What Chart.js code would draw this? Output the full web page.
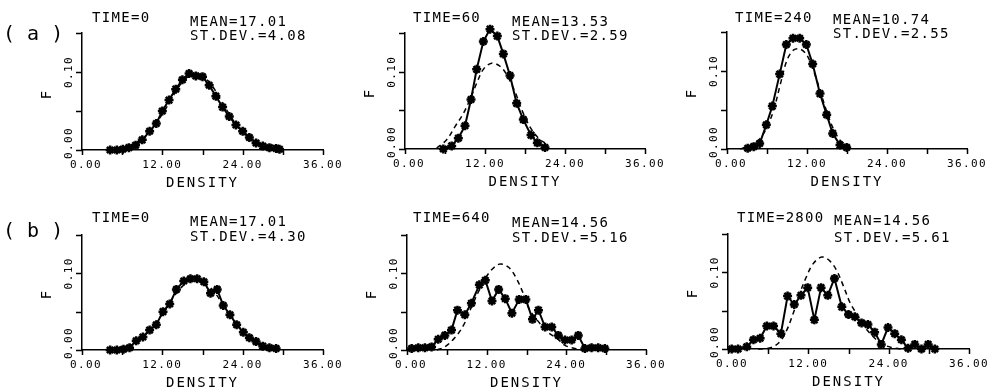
<!DOCTYPE html>
<html>
<head>
<meta charset="utf-8">
<script src="https://cdn.jsdelivr.net/npm/chart.js@4.4.1/dist/chart.umd.min.js"></script>
<style>
  html, body { margin: 0; padding: 0; background: #fff; overflow: hidden; }
  #wrap { position: relative; width: 990px; height: 392px; }
  #wrap canvas { position: absolute; left: 0; top: 0; }
</style>
</head>
<body>
<div id="wrap">
  <canvas id="p1" width="990" height="392"></canvas>
  <canvas id="p2" width="990" height="392"></canvas>
  <canvas id="p3" width="990" height="392"></canvas>
  <canvas id="p4" width="990" height="392"></canvas>
  <canvas id="p5" width="990" height="392"></canvas>
  <canvas id="p6" width="990" height="392"></canvas>
</div>
<script>
// axis ticks
const xTickLabels = ['0.00', '12.00', '24.00', '36.00'];
const xTickValues = [0, 12, 24, 36];
const xTickMarks = [0, 6, 12, 18, 24, 30, 36];
const yTickLabels = ['0.00', '0.10'];
const yTickValues = [0, 0.10];
const yTickMarks = [0, 0.05, 0.10, 0.15];

// panel texts
const times = ['TIME=0', 'TIME=60', 'TIME=240', 'TIME=0', 'TIME=640', 'TIME=2800'];
const means = ['MEAN=17.01', 'MEAN=13.53', 'MEAN=10.74', 'MEAN=17.01', 'MEAN=14.56', 'MEAN=14.56'];
const stdevs = ['ST.DEV.=4.08', 'ST.DEV.=2.59', 'ST.DEV.=2.55', 'ST.DEV.=4.30', 'ST.DEV.=5.16', 'ST.DEV.=5.61'];

// (a) TIME=0
const a0X = [4.2, 5.2, 6.1, 7.0, 8.0, 9.0, 10.1, 11.1, 12.0, 13.0, 14.0, 15.0, 16.0, 17.0, 18.0, 19.0, 20.0, 21.0, 22.0, 23.0, 24.0, 25.0, 26.0, 27.0, 28.0, 29.0, 29.5];
const a0Y = [0.000, 0.000, 0.001, 0.003, 0.006, 0.013, 0.024, 0.034, 0.050, 0.064, 0.078, 0.090, 0.098, 0.095, 0.094, 0.083, 0.069, 0.055, 0.043, 0.032, 0.024, 0.016, 0.009, 0.005, 0.003, 0.002, 0.001];
const a0DashX = [4, 5, 6, 7, 8, 9, 10, 11, 12, 13, 14, 15, 16, 17, 18, 19, 20, 21, 22, 23, 24, 25, 26, 27, 28, 29, 30];
const a0DashY = [0.001, 0.001, 0.003, 0.005, 0.009, 0.014, 0.022, 0.033, 0.046, 0.060, 0.075, 0.087, 0.095, 0.098, 0.095, 0.087, 0.075, 0.060, 0.046, 0.033, 0.023, 0.014, 0.009, 0.005, 0.003, 0.001, 0.001];

// (a) TIME=60
const a60X = [5.75, 7.0, 8.0, 9.0, 9.9, 10.75, 11.75, 12.75, 13.85, 14.75, 15.75, 16.75, 17.75, 18.9, 19.85, 21.0];
const a60Y = [0.000, 0.004, 0.014, 0.030, 0.064, 0.103, 0.139, 0.155, 0.146, 0.123, 0.095, 0.059, 0.038, 0.018, 0.008, 0.002];
const a60DashX = [4.75, 6.25, 7.5, 8.75, 9.75, 10.75, 11.75, 13.0, 14.25, 15.25, 16.5, 17.75, 19.0, 20.25, 21.0];
const a60DashY = [0.001, 0.012, 0.029, 0.046, 0.064, 0.085, 0.103, 0.111, 0.107, 0.096, 0.074, 0.046, 0.025, 0.012, 0.008];

// (a) TIME=240
const a240X = [3.1, 4.0, 4.9, 5.9, 6.8, 7.9, 8.9, 9.9, 10.9, 11.9, 12.85, 13.95, 14.95, 15.85, 16.95, 17.95];
const a240Y = [0.001, 0.003, 0.007, 0.031, 0.055, 0.096, 0.134, 0.142, 0.142, 0.134, 0.109, 0.071, 0.044, 0.020, 0.005, 0.002];
const a240DashX = [2, 3, 4, 5, 6, 7, 8, 9, 10, 11, 12, 13, 14, 15, 16, 17, 18];
const a240DashY = [0.000, 0.003, 0.007, 0.014, 0.028, 0.050, 0.083, 0.114, 0.127, 0.128, 0.120, 0.100, 0.074, 0.047, 0.025, 0.011, 0.004];

// (b) TIME=0
const b0X = [4.2, 5.2, 6.2, 7.1, 8.1, 9.1, 10.1, 11.1, 12.1, 13.1, 14.1, 15.2, 16.2, 17.2, 18.2, 19.2, 20.2, 21.1, 22.1, 23.1, 24.1, 25.0, 26.0, 27.0, 28.0, 29.0];
const b0Y = [0.000, 0.000, 0.001, 0.003, 0.012, 0.017, 0.026, 0.033, 0.050, 0.060, 0.079, 0.090, 0.093, 0.093, 0.089, 0.074, 0.079, 0.058, 0.046, 0.033, 0.023, 0.016, 0.011, 0.005, 0.003, 0.002];
const b0DashX = [4, 5, 6, 7, 8, 9, 10, 11, 12, 13, 14, 15, 16, 17, 18, 19, 20, 21, 22, 23, 24, 25, 26, 27, 28, 29, 30];
const b0DashY = [0.001, 0.002, 0.004, 0.006, 0.010, 0.016, 0.025, 0.035, 0.047, 0.060, 0.073, 0.083, 0.090, 0.093, 0.090, 0.083, 0.073, 0.060, 0.047, 0.035, 0.025, 0.016, 0.011, 0.006, 0.004, 0.002, 0.001];

// (b) TIME=640
const b640X = [0.7, 1.7, 2.7, 3.7, 4.7, 5.7, 6.7, 7.6, 8.7, 9.7, 10.9, 11.8, 12.8, 13.8, 14.8, 15.8, 16.9, 17.9, 18.9, 19.8, 20.8, 21.8, 22.8, 23.8, 24.8, 25.8, 26.8, 27.8, 28.8, 29.8];
const b640Y = [0.002, 0.003, 0.003, 0.004, 0.014, 0.019, 0.026, 0.052, 0.046, 0.061, 0.085, 0.091, 0.064, 0.079, 0.067, 0.048, 0.066, 0.066, 0.040, 0.052, 0.030, 0.030, 0.019, 0.013, 0.013, 0.019, 0.002, 0.003, 0.003, 0.002];
const b640DashX = [4.5, 5.7, 7.2, 8.5, 9.7, 11.0, 12.3, 13.9, 15.3, 16.5, 17.5, 18.5, 19.8, 21.1, 22.6, 23.8, 25.3, 26.3];
const b640DashY = [0.000, 0.004, 0.016, 0.032, 0.056, 0.080, 0.100, 0.112, 0.108, 0.093, 0.074, 0.052, 0.037, 0.024, 0.015, 0.006, 0.002, 0.000];

// (b) TIME=2800
const b2800X = [0.55, 1.5, 2.8, 3.8, 4.8, 5.8, 6.8, 7.9, 8.9, 9.9, 10.9, 11.9, 12.9, 13.9, 14.9, 15.9, 17.0, 18.0, 18.95, 19.95, 20.9, 21.9, 22.9, 23.9, 24.9, 25.9, 26.9, 27.9, 28.9, 29.9, 30.9];
const b2800Y = [0.000, 0.000, 0.003, 0.012, 0.014, 0.030, 0.030, 0.020, 0.069, 0.058, 0.070, 0.080, 0.038, 0.080, 0.070, 0.092, 0.055, 0.045, 0.042, 0.034, 0.032, 0.022, 0.006, 0.028, 0.020, 0.012, 0.001, 0.006, 0.000, 0.006, 0.000];
const b2800DashX = [4.5, 6.5, 7.8, 8.8, 9.8, 10.7, 11.7, 12.7, 14.0, 15.2, 16.2, 17.2, 18.2, 19.2, 20.4, 21.7, 22.9, 24.4, 25.9];
const b2800DashY = [0.000, 0.002, 0.010, 0.025, 0.048, 0.072, 0.094, 0.111, 0.120, 0.115, 0.103, 0.083, 0.061, 0.046, 0.029, 0.016, 0.007, 0.002, 0.000];

const solidX = [a0X, a60X, a240X, b0X, b640X, b2800X];
const solidY = [a0Y, a60Y, a240Y, b0Y, b640Y, b2800Y];
const dashX = [a0DashX, a60DashX, a240DashX, b0DashX, b640DashX, b2800DashX];
const dashY = [a0DashY, a60DashY, a240DashY, b0DashY, b640DashY, b2800DashY];

// layout of each panel in page pixels (plot box, title positions)
const layout = [
  { l: 82,  r: 323, t: 33,  b: 150, timeX: 92,  timeY: 18,  statX: 190, meanY: 22,  sdY: 36,  tag: '( a )', tagY: 35 },
  { l: 405, r: 645, t: 33,  b: 149, timeX: 413, timeY: 18,  statX: 512, meanY: 22,  sdY: 36 },
  { l: 727, r: 967, t: 32,  b: 149, timeX: 735, timeY: 18,  statX: 833, meanY: 20,  sdY: 34 },
  { l: 82,  r: 323, t: 235, b: 350, timeX: 92,  timeY: 218, statX: 190, meanY: 222, sdY: 237, tag: '( b )', tagY: 232 },
  { l: 407, r: 646, t: 235, b: 350, timeX: 413, timeY: 218, statX: 512, meanY: 223, sdY: 238 },
  { l: 728, r: 969, t: 234, b: 349, timeX: 737, timeY: 218, statX: 834, meanY: 221, sdY: 238 }
];

const FONT = '"DejaVu Sans Mono", monospace';

function text(ctx, str, x, y, size, spacing, align, rot) {
    ctx.save();
    ctx.font = size + 'px ' + FONT;
    ctx.letterSpacing = spacing + 'px';
    ctx.fillStyle = '#000';
    ctx.textAlign = align;
    ctx.textBaseline = 'middle';
    ctx.translate(x, y);
    if (rot) ctx.rotate(rot);
    ctx.fillText(str, 0, 0);
    ctx.restore();
}

function makePanel(i) {
    const L = layout[i];
    const axisStyle = {
        grid: { display: false },
        border: { display: true, color: '#000', width: 1.5 }
    };

    // draws the plotter style tick marks and labels
    const labels = {
        id: 'labels' + i,
        afterDraw(chart) {
            const ctx = chart.ctx;
            const xs = chart.scales.x;
            const ys = chart.scales.y;
            const area = chart.chartArea;

            ctx.save();
            ctx.strokeStyle = '#000';
            ctx.lineWidth = 1.5;
            ctx.beginPath();
            xTickMarks.forEach(v => {
                const px = Math.round(xs.getPixelForValue(v)) + 0.5;
                ctx.moveTo(px, area.bottom);
                ctx.lineTo(px, area.bottom + 5);
            });
            yTickMarks.forEach(v => {
                const py = Math.round(ys.getPixelForValue(v)) + 0.5;
                ctx.moveTo(area.left - 6, py);
                ctx.lineTo(area.left, py);
            });
            ctx.stroke();
            ctx.restore();

            text(ctx, times[i], L.timeX, L.timeY, 14, 1.3, 'left');
            text(ctx, means[i], L.statX, L.meanY, 14, 1.3, 'left');
            text(ctx, stdevs[i], L.statX, L.sdY, 14, 1.3, 'left');
            if (L.tag) text(ctx, L.tag, 3, L.tagY, 20, 0, 'left');

            xTickValues.forEach((v, k) => {
                const px = xs.getPixelForValue(v) + (k === 0 ? 4 : 0);
                text(ctx, xTickLabels[k], px, area.bottom + 15, 11, 1.4, 'center');
            });
            text(ctx, 'DENSITY', (area.left + area.right) / 2, area.bottom + 33, 14, 2, 'center');

            yTickValues.forEach((v, k) => {
                const py = ys.getPixelForValue(v) - (k === 0 ? 7 : 0);
                text(ctx, yTickLabels[k], area.left - 13, py, 11, 1.4, 'center', -Math.PI / 2);
            });
            text(ctx, 'F', area.left - 35, area.bottom - 55, 14, 0, 'center', -Math.PI / 2);
        }
    };

    const solid = solidX[i].map((x, k) => ({ x: x, y: solidY[i][k] }));
    const dashed = dashX[i].map((x, k) => ({ x: x, y: dashY[i][k] }));

    new Chart(document.getElementById('p' + (i + 1)), {
        type: 'line',
        data: {
            datasets: [
                {
                    data: solid,
                    borderColor: '#000',
                    borderWidth: 2,
                    pointStyle: 'star',
                    pointRadius: 4.5,
                    pointBorderWidth: 2.5,
                    pointBorderColor: '#000',
                    pointBackgroundColor: '#000',
                    tension: 0,
                    clip: false
                },
                {
                    data: dashed,
                    borderColor: '#000',
                    borderWidth: 1.5,
                    borderDash: [5, 4],
                    pointRadius: 0,
                    tension: 0.35,
                    clip: false
                }
            ]
        },
        options: {
            responsive: false,
            animation: false,
            layout: { padding: { left: L.l, right: 990 - L.r, top: L.t, bottom: 392 - L.b } },
            plugins: { legend: { display: false }, tooltip: { enabled: false } },
            scales: {
                x: {
                    type: 'linear', min: 0, max: 36,
                    ticks: { display: false, stepSize: 6 },
                    afterFit: s => { s.height = 0; },
                    ...axisStyle
                },
                y: {
                    type: 'linear', min: 0, max: 0.15,
                    ticks: { display: false, stepSize: 0.05 },
                    afterFit: s => { s.width = 0; },
                    ...axisStyle
                }
            }
        },
        plugins: [labels]
    });
}

for (let i = 0; i < 6; i++) makePanel(i);
</script>
</body>
</html>
